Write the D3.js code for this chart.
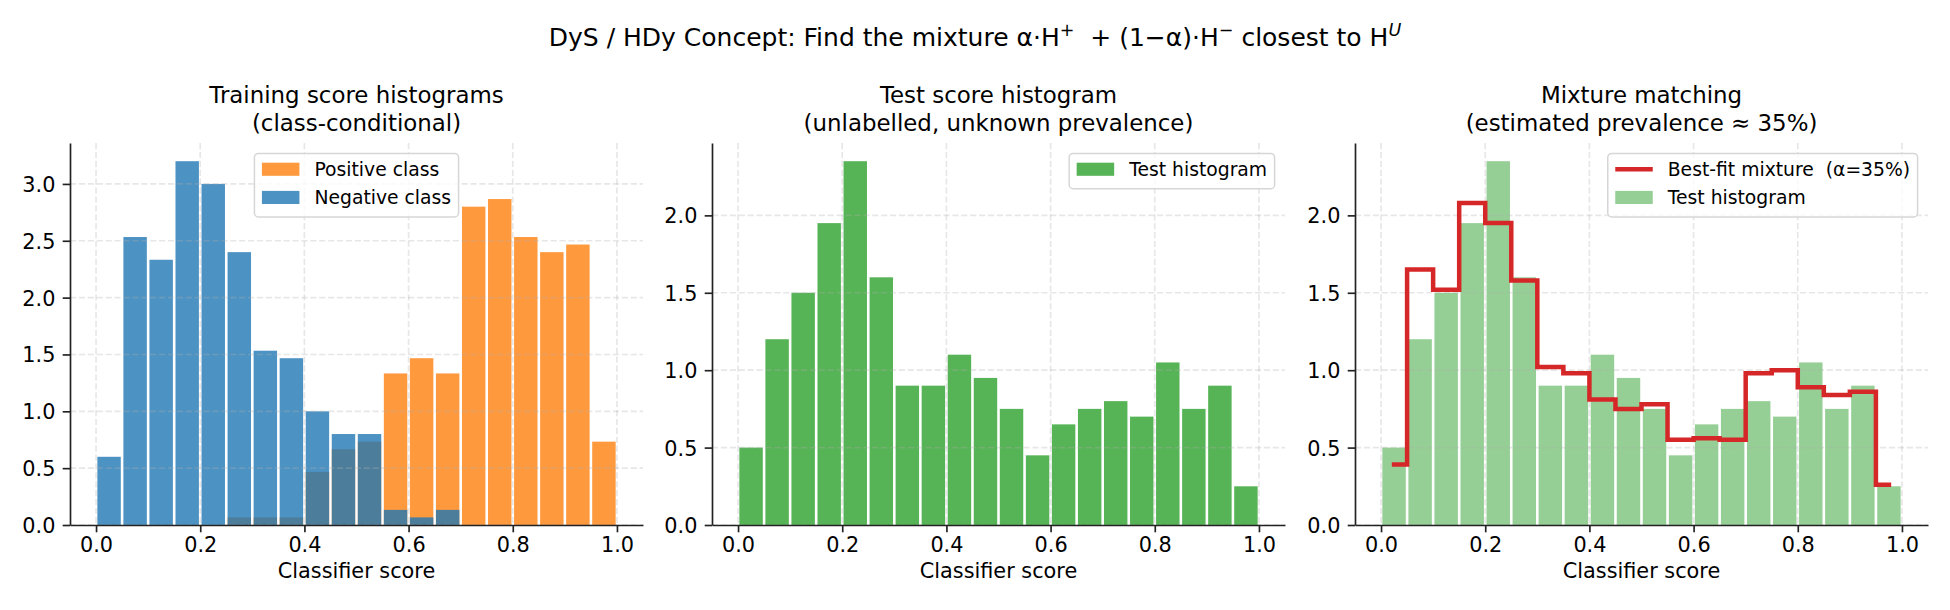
<!DOCTYPE html>
<html>
<head>
<meta charset="utf-8">
<script src="https://cdn.jsdelivr.net/npm/d3@7/dist/d3.min.js"></script>
<style>
	body { margin: 0; background: #fff; }
	svg text { font-family: "DejaVu Sans", sans-serif; fill: #000; white-space: pre; }
</style>
</head>
<body>
<svg id="chart" width="1950" height="610"></svg>
<script>
// histogram bins (left edges), width 0.05
const binLeft = [0.00, 0.05, 0.10, 0.15, 0.20, 0.25, 0.30, 0.35, 0.40, 0.45,
	0.50, 0.55, 0.60, 0.65, 0.70, 0.75, 0.80, 0.85, 0.90, 0.95];
const binWidth = 0.05;

// densities
const positiveDensity = [0, 0, 0, 0, 0, 0.067, 0.067, 0.067, 0.467, 0.667,
	0.733, 1.333, 1.467, 1.333, 2.80, 2.867, 2.533, 2.40, 2.467, 0.733];
const negativeDensity = [0.60, 2.533, 2.333, 3.20, 3.00, 2.40, 1.533, 1.467, 1.00, 0.80,
	0.80, 0.133, 0.067, 0.133, 0, 0, 0, 0, 0, 0];
const testDensity = [0.50, 1.20, 1.50, 1.95, 2.35, 1.60, 0.90, 0.90, 1.10, 0.95,
	0.75, 0.45, 0.65, 0.75, 0.80, 0.70, 1.05, 0.75, 0.90, 0.25];
const mixtureDensity = [0.39, 1.65, 1.52, 2.08, 1.95, 1.58, 1.02, 0.98, 0.81, 0.75,
	0.78, 0.55, 0.56, 0.55, 0.98, 1.00, 0.89, 0.84, 0.86, 0.26];

const xTicks = [0.0, 0.2, 0.4, 0.6, 0.8, 1.0];
const yTicksTrain = [0.0, 0.5, 1.0, 1.5, 2.0, 2.5, 3.0];
const yTicksTest = [0.0, 0.5, 1.0, 1.5, 2.0];

const C = {
	orange: '#ff7f0e', blue: '#1f77b4', green: '#2ca02c', red: '#d62728',
	ink: '#222222', grid: '#b0b0b0'
};

const svg = d3.select('#chart');
const W = 573, H = 382, TOP = 143;
const panelLeft = [70, 712, 1355];
const lw = 1.67;

// suptitle (mathtext-like pieces)
const sup = svg.append('text')
	.attr('x', 975).attr('y', 46)
	.attr('text-anchor', 'middle')
	.style('font-size', '25px');
const supParts = [
	['DyS / HDy Concept: Find the mixture α·H', 0],
	['+', 1], ['  + (1−α)·H', 0], ['−', 1], [' closest to H', 0], ['U', 2]
];
let shifted = false;
supParts.forEach(([t, s]) => {
	const ts = sup.append('tspan').text(t);
	if (s && !shifted) { ts.attr('dy', -10); shifted = true; }
	else if (!s && shifted) { ts.attr('dy', 10); shifted = false; }
	if (s) ts.style('font-size', '17.5px');
	if (s === 2) ts.style('font-style', 'italic');
});

function drawLegend(g, items, loc) {
	const fs = 18.75, pad = 7.5, hLen = 37.5, hPad = 15, rowH = 18.8, rowGap = 9.4;
	const lg = g.append('g');
	const frame = lg.append('rect');
	const texts = items.map(it => lg.append('text').style('font-size', fs + 'px').text(it.label));
	const tw = d3.max(texts, t => t.node().getComputedTextLength());
	const boxW = pad * 2 + hLen + hPad + tw;
	const boxH = pad * 2 + items.length * rowH + (items.length - 1) * rowGap + 1.5;
	const left = loc === 'upper center' ? (W - boxW) / 2 : W - 10.4 - boxW;
	const top = 10.4;
	frame.attr('x', left).attr('y', top).attr('width', boxW).attr('height', boxH)
		.attr('rx', 4).attr('fill', '#fff').attr('fill-opacity', 0.8)
		.attr('stroke', '#d6d6d6').attr('stroke-width', 1.5);
	items.forEach((it, i) => {
		const cy = top + 15.8 + i * (rowH + rowGap);
		if (it.type === 'line') {
			lg.append('line').attr('x1', left + pad).attr('x2', left + pad + hLen)
				.attr('y1', cy).attr('y2', cy)
				.attr('stroke', it.color).attr('stroke-width', 4.5);
		} else {
			lg.append('rect').attr('x', left + pad).attr('y', cy - 6.5)
				.attr('width', hLen).attr('height', 13.1)
				.attr('fill', it.color).attr('fill-opacity', it.opacity);
		}
		texts[i].attr('x', left + pad + hLen + hPad).attr('y', cy + 7);
	});
}

function drawPanel(idx, opts) {
	const g = svg.append('g').attr('transform', `translate(${panelLeft[idx]},${TOP})`);
	const x = d3.scaleLinear().domain([-0.05, 1.05]).range([0, W]);
	const yMax = d3.max(opts.bars.concat(opts.line ? [opts.line] : []), s => d3.max(s.values)) * 1.05;
	const y = d3.scaleLinear().domain([0, yMax]).range([H, 0]);

	// histogram bars (rwidth 0.9)
	opts.bars.forEach(s => {
		const rows = binLeft.map((b, i) => ({ b, v: s.values[i] })).filter(d => d.v > 0);
		g.append('g').selectAll('rect').data(rows).join('rect')
			.attr('x', d => x(d.b + binWidth * 0.05))
			.attr('width', x(binWidth * 0.9) - x(0))
			.attr('y', d => y(d.v))
			.attr('height', d => y(0) - y(d.v))
			.attr('fill', s.color)
			.attr('fill-opacity', s.opacity);
	});

	// dashed grid, above patches
	const grid = g.append('g')
		.attr('stroke', C.grid).attr('stroke-opacity', 0.3)
		.attr('stroke-width', lw).attr('stroke-dasharray', '6.2,2.7');
	grid.selectAll('.gx').data(xTicks).join('line').attr('class', 'gx')
		.attr('x1', d => x(d)).attr('x2', d => x(d)).attr('y1', 0).attr('y2', H);
	grid.selectAll('.gy').data(opts.yTicks).join('line').attr('class', 'gy')
		.attr('y1', d => y(d)).attr('y2', d => y(d)).attr('x1', 0).attr('x2', W);

	if (opts.line) {
		const centers = binLeft.map(b => b + binWidth / 2);
		const line = d3.line().x((d, i) => x(centers[i])).y(d => y(d)).curve(d3.curveStep);
		g.append('path').attr('d', line(opts.line.values))
			.attr('fill', 'none').attr('stroke', opts.line.color)
			.attr('stroke-width', 4.5).attr('stroke-linecap', 'square');
	}

	// axes
	const xAxis = g.append('g').attr('transform', `translate(0,${H})`)
		.call(d3.axisBottom(x).tickValues(xTicks).tickFormat(d3.format('.1f'))
			.tickSize(7.3).tickPadding(4.5).tickSizeOuter(0));
	const yAxis = g.append('g')
		.call(d3.axisLeft(y).tickValues(opts.yTicks).tickFormat(d3.format('.1f'))
			.tickSize(7.3).tickPadding(7.3).tickSizeOuter(0));
	[xAxis, yAxis].forEach(a => {
		a.attr('font-family', null).attr('font-size', null);
		a.select('.domain').attr('stroke', C.ink).attr('stroke-width', lw);
		a.selectAll('.tick line').attr('stroke', C.ink).attr('stroke-width', lw);
		a.selectAll('.tick text').style('font-size', '20.8px').attr('fill', C.ink);
	});
	yAxis.selectAll('.tick text').attr('dy', '0.36em');

	g.append('text').attr('x', W / 2).attr('y', H + 53)
		.attr('text-anchor', 'middle').style('font-size', '20.8px')
		.text('Classifier score');

	opts.title.forEach((t, i) => {
		g.append('text').attr('x', W / 2).attr('y', -12.5 - (opts.title.length - 1 - i) * 28)
			.attr('text-anchor', 'middle').style('font-size', '22.9px').text(t);
	});

	drawLegend(g, opts.legend, opts.legendLoc);
}

drawPanel(0, {
	title: ['Training score histograms', '(class-conditional)'],
	yTicks: yTicksTrain,
	bars: [
		{ values: positiveDensity, color: C.orange, opacity: 0.8 },
		{ values: negativeDensity, color: C.blue, opacity: 0.8 }
	],
	legend: [
		{ type: 'patch', color: C.orange, opacity: 0.8, label: 'Positive class' },
		{ type: 'patch', color: C.blue, opacity: 0.8, label: 'Negative class' }
	],
	legendLoc: 'upper center'
});

drawPanel(1, {
	title: ['Test score histogram', '(unlabelled, unknown prevalence)'],
	yTicks: yTicksTest,
	bars: [{ values: testDensity, color: C.green, opacity: 0.8 }],
	legend: [{ type: 'patch', color: C.green, opacity: 0.8, label: 'Test histogram' }],
	legendLoc: 'upper right'
});

drawPanel(2, {
	title: ['Mixture matching', '(estimated prevalence ≈ 35%)'],
	yTicks: yTicksTest,
	bars: [{ values: testDensity, color: C.green, opacity: 0.5 }],
	line: { values: mixtureDensity, color: C.red },
	legend: [
		{ type: 'line', color: C.red, label: 'Best-fit mixture  (α=35%)' },
		{ type: 'patch', color: C.green, opacity: 0.5, label: 'Test histogram' }
	],
	legendLoc: 'upper right'
});
</script>
</body>
</html>
